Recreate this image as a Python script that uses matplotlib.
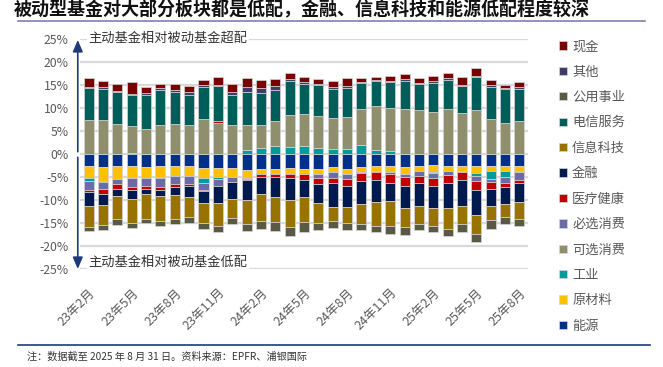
import matplotlib
matplotlib.use("Agg")
import matplotlib.pyplot as plt
import numpy as np
from matplotlib.patches import Patch
from matplotlib.lines import Line2D

plt.rcParams['font.family'] = ['Noto Sans CJK SC', 'DejaVu Sans']

# months shown on the x axis (23年2月 .. 25年8月)
months = [f"{y}年{m}月" for y in (23, 24, 25) for m in range(1, 13)][1:32]
tick_idx = list(range(0, 31, 3))

# overweight(+)/underweight(-) of active vs passive funds, in %
energy = [-2.5, -2.7, -2.6, -2.6, -2.8, -2.6, -2.6, -2.6, -3.0, -3.0, -2.9, -3.3, -3.1, -3.2, -3.0, -3.1,
          -3.05, -2.75, -3.05, -2.75, -2.4, -2.55, -2.75, -2.45, -2.25, -2.45, -2.4, -2.6, -2.4, -2.4, -2.4]
materials = [-2.7, -3.0, -2.75, -2.5, -2.4, -2.25, -2.0, -2.0, -2.1, -2.0, -1.9, -1.75, -1.1, -1.15, -1.25, -1.1,
             -1.15, -1.15, -1.15, -0.95, -1.1, -1.15, -1.6, -1.2, -1.45, -1.2, -1.2, -1.4, -1.2, -1.2, -1.1]
industrials = [-0.5, -0.2, 0.0, 0.35, 0.0, -0.2, 0.0, 0.0, -1.1, -0.3, 0.0, 0.9, 1.5, 1.75, 1.6, 1.95,
               1.45, 1.25, 1.25, 2.1, 1.0, 0.85, 0.0, 0.0, -0.35, 0.0, 0.0, -0.6, -1.8, -1.3, -0.35]
cons_disc = [7.6, 7.5, 6.7, 5.9, 5.6, 6.5, 6.7, 6.5, 7.75, 6.9, 6.45, 5.6, 4.9, 5.45, 7.0, 6.75,
             6.9, 6.65, 7.0, 7.8, 9.6, 9.2, 9.9, 9.6, 9.2, 9.9, 9.0, 9.6, 7.75, 6.9, 7.2]
cons_staples = [-2.0, -1.7, -1.15, -1.95, -1.6, -1.95, -1.75, -1.8, -1.5, -1.6, -1.2, -0.3, 0.0, 0.0, 0.0, 0.0,
                -0.85, -1.15, -1.1, -0.35, -0.2, -0.65, -0.6, -1.0, -1.0, -0.85, -0.2, -1.25, -0.6, -1.25, -1.6]
health = [-0.4, -1.0, -0.9, -0.7, -0.7, -0.8, -0.8, -0.5, -0.3, 0.4, 0.0, -0.2, -0.7, -0.6, -0.85, -1.45,
          -1.3, -1.15, -1.45, -1.8, -1.95, -1.9, -1.95, -1.65, -1.9, -1.8, -1.65, -1.9, -1.45, -0.95, -0.8]
financials = [-3.1, -2.4, -1.6, -1.95, -1.1, -1.2, -1.65, -2.4, -2.6, -3.75, -3.6, -4.35, -3.75, -4.35, -4.8, -3.6,
              -4.15, -5.2, -4.7, -4.85, -4.7, -3.9, -4.8, -4.85, -4.65, -5.4, -5.7, -5.45, -3.85, -3.75, -4.15]
info_tech = [-4.6, -4.35, -5.1, -5.1, -5.4, -5.4, -5.2, -4.35, -4.3, -4.9, -4.2, -5.2, -5.9, -5.45, -5.8, -5.5,
             -4.4, -3.05, -3.4, -4.35, -5.1, -5.5, -4.1, -4.0, -3.85, -4.5, -4.0, -4.0, -3.05, -2.75, -3.6]
telecom = [6.8, 6.8, 6.8, 6.6, 7.4, 7.5, 6.9, 6.5, 7.0, 7.5, 6.4, 7.1, 7.0, 6.9, 7.4, 6.65,
           6.65, 6.25, 6.15, 5.65, 5.3, 5.65, 6.15, 5.7, 6.4, 6.4, 5.85, 7.2, 6.9, 7.25, 7.1]
utilities = [-0.9, -1.1, -1.3, -1.1, -0.95, -1.15, -1.2, -1.15, -1.3, -1.2, -1.4, -1.6, -1.6, -1.8, -1.95, -2.1,
             -1.6, -1.5, -1.65, -1.45, -1.45, -1.6, -1.65, -1.3, -1.45, -1.45, -1.65, -1.75, -1.8, -1.6, -1.65]
other = [0.25, 0.35, 0.3, 0.35, 0.35, 0.35, 0.5, 0.5, 0.35, 0.35, 0.7, 1.1, 1.0, 0.7, 0.45, 0.5,
         0.35, 0.5, 0.45, 0.3, 0.3, 0.35, 0.35, 0.3, 0.3, 0.3, 0.3, 0.3, 0.35, 0.35, 0.35]
cash = [1.95, 1.4, 1.45, 2.5, 1.3, 0.95, 1.15, 1.3, 1.15, 1.65, 1.8, 2.0, 1.8, 1.65, 1.25, 0.95,
        1.1, 1.3, 1.75, 0.7, 0.7, 1.1, 1.1, 1.0, 1.1, 1.15, 1.65, 1.8, 1.25, 0.7, 1.1]

# stacking order (bottom to top), legend shows it reversed
series = [
    ("能源", energy, "#00308a"),
    ("原材料", materials, "#ffc000"),
    ("工业", industrials, "#009c9c"),
    ("可选消费", cons_disc, "#8f8f6e"),
    ("必选消费", cons_staples, "#6b6ba8"),
    ("医疗健康", health, "#c00000"),
    ("金融", financials, "#001a4f"),
    ("信息科技", info_tech, "#997300"),
    ("电信服务", telecom, "#005e5a"),
    ("公用事业", utilities, "#595944"),
    ("其他", other, "#403c68"),
    ("现金", cash, "#7a0000"),
]

fig = plt.figure(figsize=(6.63, 3.67), dpi=100)
ax = fig.add_axes([0.1207, 0.2657, 0.6757, 0.6267])

x = np.arange(len(months))
pos_base = np.zeros(len(x))
neg_base = np.zeros(len(x))
for name, vals, color in series:
    v = np.array(vals)
    base = np.where(v >= 0, pos_base, neg_base)
    ax.bar(x, v, 0.7, bottom=base, color=color, edgecolor="#d5d5d5", linewidth=0.5, zorder=3)
    pos_base += np.where(v >= 0, v, 0)
    neg_base += np.where(v < 0, v, 0)

ax.set_xlim(-0.6, 30.6)
ax.set_ylim(-25, 25)
ax.set_yticks(range(-25, 30, 5))
ax.set_yticklabels([f"{t}%" for t in range(-25, 30, 5)])
ax.yaxis.grid(True, color="#d9d9d9", linewidth=1.6, zorder=0)
ax.set_axisbelow(True)
for s in ax.spines.values():
    s.set_visible(False)
ax.tick_params(axis="y", length=0, pad=8, labelsize=8.8, labelcolor="#595959")
ax.set_xticks(tick_idx)
ax.set_xticklabels([months[i] for i in tick_idx], rotation=45, ha="right",
                   rotation_mode="anchor", fontsize=9, color="#595959")
ax.tick_params(axis="x", length=0, pad=12)

# arrowed y axis
arrow_kw = dict(arrowstyle="-|>,head_length=0.7,head_width=0.3", color="#1f3a7a", lw=1.2)
ax.annotate("", xy=(-0.005, 1.01), xytext=(-0.005, 0.5), xycoords="axes fraction",
            arrowprops=arrow_kw, annotation_clip=False)
ax.annotate("", xy=(-0.005, -0.01), xytext=(-0.005, 0.5), xycoords="axes fraction",
            arrowprops=arrow_kw, annotation_clip=False)
ax.text(0.0, 25.3, "主动基金相对被动基金超配", fontsize=9.5, color="#333333", va="center",
        bbox=dict(facecolor="white", edgecolor="none", pad=1), zorder=4)
ax.text(0.0, -23.4, "主动基金相对被动基金低配", fontsize=9.5, color="#333333", va="center",
        bbox=dict(facecolor="white", edgecolor="none", pad=1), zorder=4)

handles = [Patch(facecolor=c, edgecolor="#d5d5d5", linewidth=0.5) for _, _, c in series][::-1]
labels = [n for n, _, _ in series][::-1]
fig.legend(handles, labels, loc="upper left", bbox_to_anchor=(0.835, 0.905), frameon=False,
           fontsize=9.5, labelcolor="#595959", handlelength=0.6, handleheight=0.6,
           handletextpad=0.4, labelspacing=0.94, borderaxespad=0)

fig.text(0.02, 0.975, "被动型基金对大部分板块都是低配，金融、信息科技和能源低配程度较深",
         fontsize=13, fontweight="bold", color="#111111", va="center")
fig.add_artist(Line2D([0.027, 0.973], [0.943, 0.943], color="#7f7fb0", lw=1.2))
fig.add_artist(Line2D([0.027, 0.98], [0.06, 0.06], color="#1f3a7a", lw=1.2))
fig.text(0.041, 0.027, "注：数据截至 2025 年 8 月 31 日。资料来源：EPFR、浦银国际",
         fontsize=7.3, color="#333333", va="center")

fig.savefig("out.png", dpi=100)
